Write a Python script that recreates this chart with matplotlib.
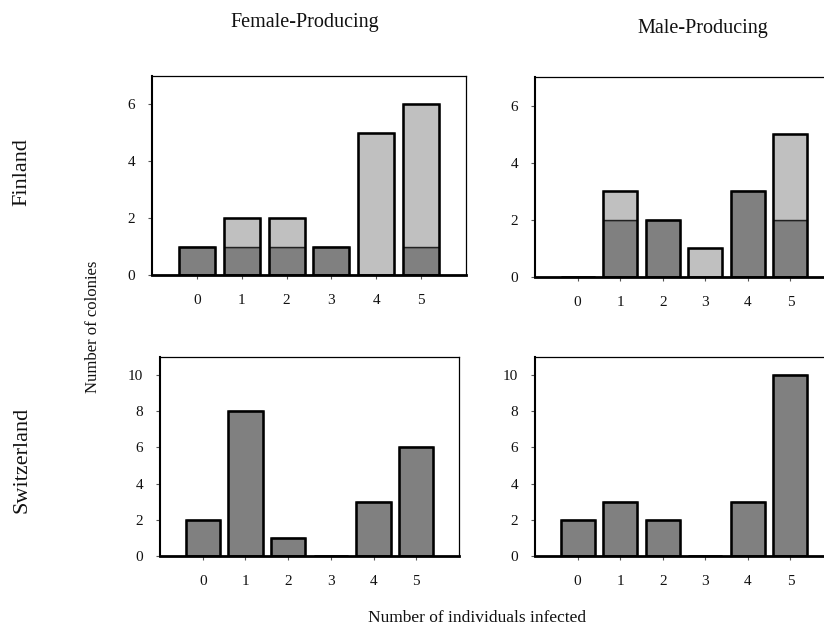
import matplotlib
matplotlib.use("Agg")
import matplotlib.pyplot as plt
import numpy as np

plt.rcParams['font.family'] = ['Liberation Serif', 'DejaVu Serif']

categories = [0, 1, 2, 3, 4, 5]

# Finland, female-producing colonies
fin_female_dark = [1, 1, 1, 1, 0, 1]
fin_female_light = [0, 1, 1, 0, 5, 5]
# Finland, male-producing colonies
fin_male_dark = [0, 2, 2, 0, 3, 2]
fin_male_light = [0, 1, 0, 1, 0, 3]
# Switzerland, female-producing colonies
sui_female_dark = [2, 8, 1, 0, 3, 6]
sui_female_light = [0, 0, 0, 0, 0, 0]
# Switzerland, male-producing colonies
sui_male_dark = [2, 3, 2, 0, 3, 10]
sui_male_light = [0, 0, 0, 0, 0, 0]

fin_yticks = [0, 2, 4, 6]
sui_yticks = [0, 2, 4, 6, 8, 10]

DARK = '#808080'
LIGHT = '#c0c0c0'
W, H = 824, 630

fig = plt.figure(figsize=(W / 100, H / 100), dpi=100)


def px_axes(left, top, right, bottom):
    return fig.add_axes([left / W, 1 - bottom / H, (right - left) / W, (bottom - top) / H])


def panel(ax, dark, light, ymax, yticks):
    x = np.array(categories)
    d = np.array(dark, dtype=float)
    l = np.array(light, dtype=float)
    ax.bar(x, d, width=0.8, color=DARK, edgecolor='#222222', linewidth=1.0, zorder=2)
    ax.bar(x, l, width=0.8, bottom=d, color=LIGHT, edgecolor='#222222', linewidth=1.0, zorder=2)
    tot = d + l
    ax.bar(x, tot, width=0.8, fill=False, edgecolor='black', linewidth=1.8, zorder=3)
    ax.set_xlim(-1, 6)
    ax.set_ylim(0, ymax)
    ax.set_xticks(categories)
    ax.set_yticks(yticks)
    ax.tick_params(axis='both', direction='out', length=3, width=0.8, color='#555555',
                   labelsize=11, labelcolor='#111111')
    ax.tick_params(axis='x', pad=11)
    ax.tick_params(axis='y', pad=9)
    for s in ('top', 'right'):
        ax.spines[s].set_linewidth(0.9)
    ax.spines['left'].set_linewidth(1.5)
    ax.spines['bottom'].set_linewidth(2.0)
    ax.spines['bottom'].set_zorder(4)


ax_tl = px_axes(152, 76, 466, 275)
ax_tr = px_axes(535, 77, 833, 277)
ax_bl = px_axes(160, 357, 459, 556)
ax_br = px_axes(535, 357, 833, 556)

panel(ax_tl, fin_female_dark, fin_female_light, 7, fin_yticks)
panel(ax_tr, fin_male_dark, fin_male_light, 7, fin_yticks)
panel(ax_bl, sui_female_dark, sui_female_light, 11, sui_yticks)
panel(ax_br, sui_male_dark, sui_male_light, 11, sui_yticks)

fig.text(305 / W, 1 - 22 / H, 'Female-Producing', ha='center', va='center', fontsize=14.5, color='#111111')
fig.text(703 / W, 1 - 28 / H, 'Male-Producing', ha='center', va='center', fontsize=14.5, color='#111111')
fig.text(22 / W, 1 - 172 / H, 'Finland', ha='center', va='center', rotation=90, fontsize=16, color='#111111')
fig.text(22 / W, 1 - 460 / H, 'Switzerland', ha='center', va='center', rotation=90, fontsize=16, color='#111111')
fig.text(93 / W, 1 - 327 / H, 'Number of colonies', ha='center', va='center', rotation=90, fontsize=12, color='#111111')
fig.text(477 / W, 1 - 618 / H, 'Number of individuals infected', ha='center', va='center', fontsize=12.5, color='#111111')

fig.savefig('out.png', dpi=100)
